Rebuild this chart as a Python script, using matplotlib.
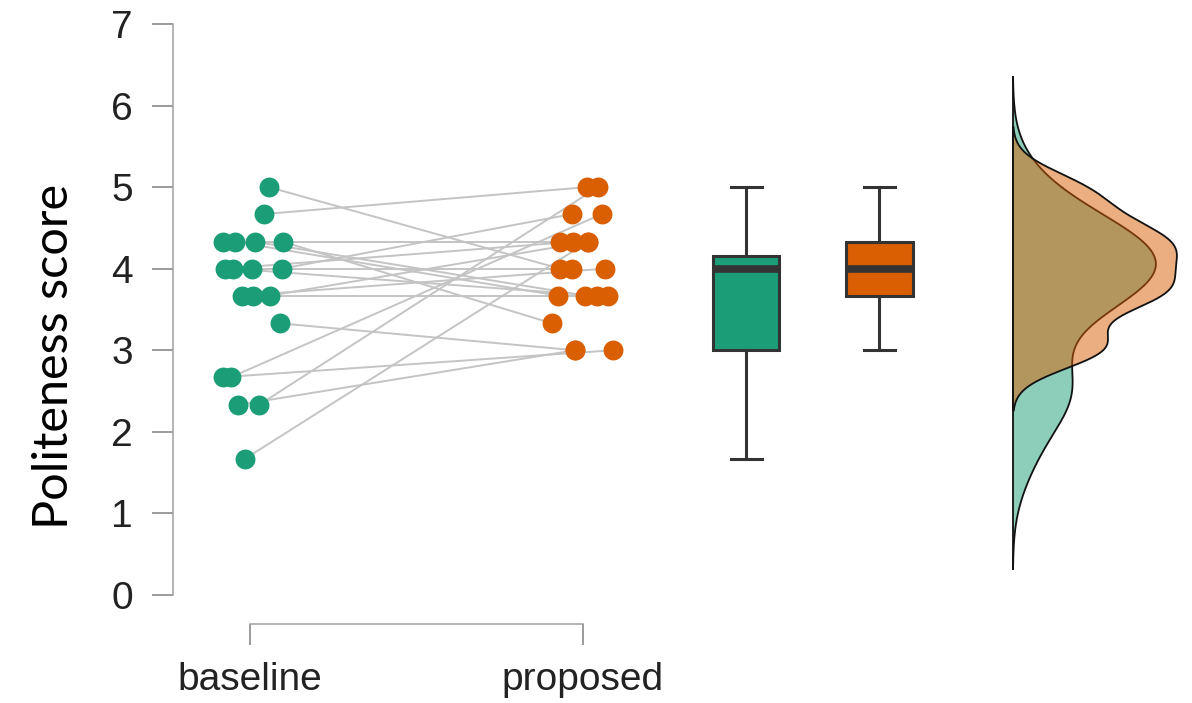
import numpy as np
from matplotlib import pyplot as plt
from matplotlib import mlab

plt.rcParams['font.family'] = ['Liberation Sans', 'DejaVu Sans']

# paired scores, one entry per participant (same order in both lists)
baseline = [5.0, 4.67, 4.33, 4.33, 4.33, 4.33, 4.0, 4.0, 4.0, 4.0,
            3.67, 3.67, 3.67, 3.33, 2.67, 2.67, 2.33, 2.33, 1.67]
proposed = [4.0, 5.0, 4.33, 3.67, 3.67, 3.33, 4.33, 3.67, 4.0, 4.67,
            4.0, 3.67, 4.33, 3.0, 3.0, 4.67, 3.0, 5.0, 4.33]
# horizontal jitter of the dots
baseline_jit = [0.057, 0.042, -0.081, -0.045, 0.015, 0.099, -0.075, -0.051, 0.006, 0.096,
                -0.024, 0.009, 0.060, 0.090, -0.081, -0.057, -0.036, 0.027, -0.015]
proposed_jit = [-0.069, 0.012, -0.069, -0.075, 0.006, -0.093, -0.030, 0.042, -0.033, -0.033,
                0.066, 0.075, 0.015, -0.024, 0.090, 0.057, -0.024, 0.045, 0.015]

groups = ['baseline', 'proposed']
colors = ['#1b9e77', '#d95f02']

# box summary (median, quartiles, whisker ends)
box_med = [4.0, 4.0]
box_q1 = [3.0, 3.67]
box_q3 = [4.15, 4.33]
box_lo = [1.67, 3.0]
box_hi = [5.0, 5.0]

fig = plt.figure(figsize=(11.92, 7.03), dpi=100)
ax = fig.add_axes([173 / 1192, 1 - 624 / 703, (1185 - 173) / 1192, (624 - 20) / 703])

# paired lines
for b, p, bj, pj in zip(baseline, proposed, baseline_jit, proposed_jit):
    ax.plot([1 + bj, 2 + pj], [b, p], color='#c4c4c4', lw=1.4, zorder=1)

ax.scatter(1 + np.array(baseline_jit), baseline, s=205, color=colors[0], zorder=3, linewidths=0)
ax.scatter(2 + np.array(proposed_jit), proposed, s=205, color=colors[1], zorder=3, linewidths=0)

# boxes
stats = []
for i in range(2):
    stats.append(dict(med=box_med[i], q1=box_q1[i], q3=box_q3[i],
                      whislo=box_lo[i], whishi=box_hi[i], fliers=[]))
bp = ax.bxp(stats, positions=[2.49, 2.89], widths=0.2, capwidths=0.093,
            patch_artist=True, showfliers=False,
            boxprops=dict(edgecolor='#333333', linewidth=2.2),
            whiskerprops=dict(color='#333333', linewidth=2.2),
            capprops=dict(color='#333333', linewidth=2.2),
            medianprops=dict(color='#333333', linewidth=5.5, solid_capstyle='butt'))
for patch, c in zip(bp['boxes'], colors):
    patch.set_facecolor(c)

# half densities, R-style nrd0 bandwidth, cut = 3, common scale
base_x = 3.291
curves = []
for d in (baseline, proposed):
    d = np.array(d)
    sd = d.std(ddof=1)
    iqr = np.percentile(d, 75) - np.percentile(d, 25)
    bw = 0.9 * min(sd, iqr / 1.34) * len(d) ** -0.2
    kde = mlab.GaussianKDE(d, bw_method=bw / sd)
    grid = np.linspace(d.min() - 3 * bw, d.max() + 3 * bw, 512)
    curves.append((grid, kde.evaluate(grid)))
scale = 0.4925 / max(dens.max() for _, dens in curves)
for (grid, dens), c in zip(curves, colors):
    xs = base_x + dens * scale
    ax.fill_betweenx(grid, base_x, xs, facecolor=c, alpha=0.5, edgecolor='none', zorder=2)
    ax.plot(xs, grid, color='#111111', lw=1.3, zorder=2)
    ax.plot([base_x, base_x], [grid[0], grid[-1]], color='#111111', lw=1.3, zorder=2)

ax.set_xlim(1 - 77 / 333, 1 + (1185 - 250) / 333)
ax.set_ylim(-0.356, 7.049)
ax.set_yticks(range(8))
ax.set_xticks([1, 2])
ax.set_xticklabels(groups)

for s in ['top', 'right']:
    ax.spines[s].set_visible(False)
ax.spines['left'].set_bounds(0, 7)
ax.spines['bottom'].set_bounds(1, 2)
for s in ['left', 'bottom']:
    ax.spines[s].set_color('#a0a0a0')
    ax.spines[s].set_linewidth(1.1)
ax.tick_params(axis='both', length=15, width=1.1, color='#808080',
               labelsize=28, labelcolor='#222222', pad=14)
ax.tick_params(axis='x', pad=12)

ax.set_ylabel('Politeness score', fontsize=35, family=['Lato', 'DejaVu Sans'])
ax.yaxis.set_label_coords((76 - 173) / 1012, (624 - 356) / 604)

fig.savefig('out.png', dpi=100)
plt.close(fig)
